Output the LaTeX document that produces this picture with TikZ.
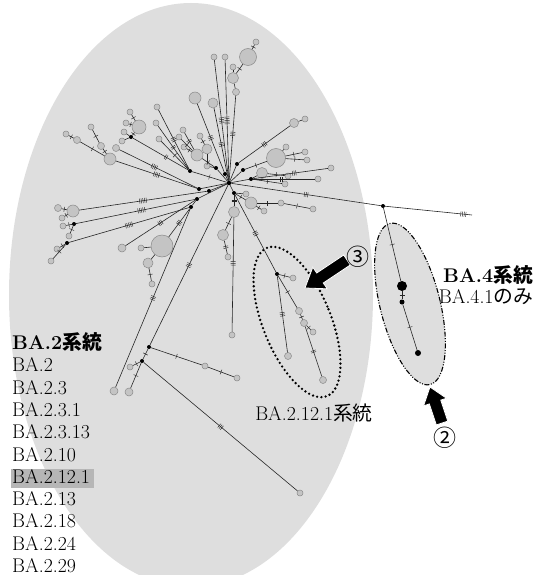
\documentclass[tikz,border=0pt]{standalone}
\usepackage{fontspec}
\newfontfamily\jp{Noto Sans CJK JP}
\usetikzlibrary{decorations.markings}
\definecolor{bgc}{HTML}{DEDEDE}
\definecolor{hfill}{HTML}{C4C4C4}
\definecolor{hdraw}{HTML}{8A8A8A}
\definecolor{hilite}{HTML}{B6B6B6}
\begin{document}
\begin{tikzpicture}[x=1pt,y=-1pt,
  ed/.style={draw=black!85, line width=0.6pt},
  tickline/.style={draw=black!85, line width=0.45pt},
  tk/.style 2 args={postaction={decorate,decoration={markings,
      mark=at position #2 with {\foreach \q in {1,...,#1}{\pgfmathsetmacro\tkx{(\q-0.5-0.5*#1)*1.7}\draw[tickline] (\tkx pt,-2.5pt) -- (\tkx pt,2.5pt);}}}}},
  hp/.style={circle, draw=hdraw, fill=hfill, line width=0.5pt, inner sep=0pt, minimum size=#1pt},
  bd/.style={circle, fill=black, inner sep=0pt, minimum size=#1pt},
  bd/.default=4,
  lbl/.style={font=\fontsize{19.8}{22}\selectfont, inner sep=0pt},
  circnum/.style={font=\jp\fontsize{23}{23}\selectfont, inner sep=0pt},
  blockarrow/.style={fill=black, draw=white, line width=0.8pt, line join=miter}
]
\useasboundingbox (0,0) rectangle (535,575);
% background ellipses
\fill[bgc] (191,295) ellipse [x radius=182, y radius=292];
\filldraw[fill=bgc, draw=black, line width=1.1pt,
  dash pattern=on 5pt off 1.6pt on 1pt off 1.6pt on 1pt off 1.6pt,
  rotate around={14:(410,304)}] (410,304) ellipse [x radius=30, y radius=83];
\draw[black, line width=2.6pt, line cap=round, dash pattern=on 0pt off 4.3pt,
  rotate around={22:(297,322)}] (297,322) ellipse [x radius=34, y radius=80];

% hub and median vectors
\node[bd=4.5] (h) at (229,183) {};
\node[bd] (d1) at (209,191) {};
\node[bd] (d2) at (199,189) {};
\node[bd] (d3) at (216,168) {};
\node[bd] (d4) at (225,174) {};
\node[bd] (d5) at (237,164) {};
\node[bd] (d6) at (243,170) {};
\node[bd] (d7) at (251,179) {};
\node[bd] (d8) at (234,193) {};
\node[bd] (d9) at (190,171) {};
\node[bd] (d10) at (197,199) {};
\node[bd] (d11) at (191,207) {};

% top group
\node[hp=6] (t1) at (214,57) {};
\node[hp=6] (t2) at (225,57) {};
\node[hp=6] (t3) at (233,67) {};
\node[hp=11] (t4) at (233,78) {};
\node[hp=7] (t5) at (236,92) {};
\node[hp=17] (t6) at (248,57) {};
\node[hp=6] (t7) at (256,42) {};
\node[hp=10] (t8) at (213,103) {};
\node[hp=12] (t9) at (195,98) {};

% upper-left group
\node[hp=6] (u1) at (130,112) {};
\node[hp=6] (u2) at (126,123) {};
\node[hp=14] (u3) at (139,127) {};
\node[hp=6] (u4) at (124,132) {};
\node[hp=6] (u5) at (122,141) {};
\node[bd] (u6) at (131,137) {};
\node[hp=6] (u7) at (157,107) {};
\node[hp=6] (u8) at (156,123) {};
\node[hp=6] (u9) at (159,139) {};
\node[hp=6] (u10) at (183,130) {};
\node[hp=6] (u11) at (179,137) {};
\node[hp=6] (u12) at (184,147) {};
\node[hp=12] (u13) at (197,155) {};
\node[hp=6] (u14) at (200,136) {};
\node[hp=10] (u15) at (207,149) {};
\node[hp=6] (u16) at (207,166) {};
\node[hp=6] (u17) at (66,134) {};
\node[hp=7] (u18) at (77,140) {};
\node[hp=6] (u19) at (91,127) {};
\node[hp=7] (u20) at (101,146) {};
\node[hp=12] (u21) at (110,159) {};
\node[hp=7] (u22) at (116,148) {};

% right group
\node[hp=9] (r1) at (294,123) {};
\node[hp=6] (r2) at (305,119) {};
\node[hp=19] (r3) at (276,158) {};
\node[hp=6] (r4) at (286,147) {};
\node[hp=6] (r5) at (305,152) {};
\node[hp=6] (r6) at (307,160) {};
\node[hp=11] (r7) at (262,173) {};
\node[hp=6] (r8) at (288,176) {};
\node[hp=6] (r9) at (331,168) {};
\node[hp=6] (r10) at (318,179) {};
\node[hp=6] (r11) at (285,184) {};
\node[hp=6] (r12) at (246,194) {};
\node[hp=12] (r13) at (251,203) {};
\node[hp=6] (r14) at (264,211) {};
\node[hp=6] (r15) at (281,203) {};
\node[hp=6] (r16) at (313,209) {};

% downward group
\node[hp=11] (l1) at (234,212) {};
\node[hp=11] (l2) at (223,235) {};
\node[hp=6] (l3) at (228,257) {};
\node[hp=6] (l4) at (232,335) {};

% BA.2.12.1 group
\node[bd] (g0) at (277,274) {};
\node[hp=6] (g1) at (293,278) {};
\node[hp=7] (g2) at (288,356) {};
\node[hp=7] (g3) at (299,311) {};
\node[hp=7] (g4) at (304,323) {};
\node[hp=6] (g5) at (313,332) {};
\node[hp=7] (g6) at (323,380) {};

% left group
\node[hp=12] (w1) at (73,211) {};
\node[hp=7] (w2) at (58,208) {};
\node[hp=6] (w3) at (62,218) {};
\node[bd] (w4) at (74,224) {};
\node[hp=6] (w5) at (63,226) {};
\node[hp=6] (w6) at (69,236) {};
\node[bd] (w7) at (67,243) {};
\node[hp=6] (w8) at (57,249) {};
\node[hp=6] (w9) at (51,261) {};
\node[hp=8] (w10) at (122,248) {};
\node[hp=22] (w11) at (162,246) {};
\node[hp=6] (w12) at (141,248) {};
\node[hp=10] (w13) at (148,263) {};
\node[hp=6] (w14) at (152,284) {};

% lower-left group
\node[hp=8] (a1) at (114,391) {};
\node[bd] (b0) at (149,347) {};
\node[bd] (b1) at (142,361) {};
\node[hp=6] (b2) at (130,367) {};
\node[hp=8] (b3) at (129,392) {};
\node[hp=6] (b4) at (205,366) {};
\node[hp=6] (b5) at (237,378) {};
\node[hp=6] (b6) at (300,493) {};

% BA.4 branch
\node[bd] (e1) at (383,206) {};
\coordinate (e2) at (472,215);
\node[bd=10] (k1) at (402,286) {};
\node[bd=5] (k2) at (402,302) {};
\node[bd=6] (k3) at (418,353) {};

% edges: hub
\draw[ed] (h) -- (d1);
\draw[ed] (h) -- (d2);
\draw[ed] (h) -- (d3);
\draw[ed] (h) -- (d4);
\draw[ed] (h) -- (d5);
\draw[ed] (h) -- (d6);
\draw[ed] (h) -- (d7);
\draw[ed] (h) -- (d8);
\draw[ed, tk={1}{0.5}] (h) -- (d9);
\draw[ed] (h) -- (d10);
\draw[ed] (d10) -- (d11);
% top
\draw[ed, tk={4}{0.5}] (t1) -- (h);
\draw[ed, tk={5}{0.5}] (t2) -- (h);
\draw[ed, tk={3}{0.45}] (t5) -- (h);
\draw[ed] (t3) -- (t4);
\draw[ed] (t4) -- (t5);
\draw[ed, tk={1}{0.5}] (t6) -- (t4);
\draw[ed, tk={1}{0.5}] (t6) -- (t7);
\draw[ed, tk={3}{0.5}] (t8) -- (h);
\draw[ed, tk={3}{0.5}] (t9) -- (d4);
% upper-left
\draw[ed, tk={1}{0.5}] (u17) -- (u18);
\draw[ed, tk={1}{0.5}] (u18) -- (u21);
\draw[ed, tk={1}{0.5}] (u19) -- (u20);
\draw[ed, tk={1}{0.5}] (u20) -- (u21);
\draw[ed, tk={4}{0.5}] (u21) -- (d2);
\draw[ed, tk={4}{0.45}] (u22) -- (d2);
\draw[ed, tk={1}{0.5}] (u3) -- (u1);
\draw[ed, tk={1}{0.5}] (u3) -- (u2);
\draw[ed, tk={1}{0.5}] (u3) -- (u6);
\draw[ed] (u6) -- (u4);
\draw[ed] (u6) -- (u5);
\draw[ed, tk={2}{0.6}] (u6) -- (d9);
\draw[ed, tk={3}{0.5}] (u7) -- (d9);
\draw[ed, tk={2}{0.5}] (u8) -- (d9);
\draw[ed, tk={1}{0.5}] (u9) -- (d9);
\draw[ed, tk={2}{0.5}] (u10) -- (u13);
\draw[ed, tk={1}{0.5}] (u11) -- (u13);
\draw[ed, tk={1}{0.5}] (u12) -- (u13);
\draw[ed, tk={1}{0.5}] (u13) -- (d3);
\draw[ed, tk={1}{0.5}] (u14) -- (u15);
\draw[ed] (u15) -- (u16);
\draw[ed] (u16) -- (d3);
% right
\draw[ed, tk={3}{0.5}] (d5) -- (r1);
\draw[ed] (r1) -- (r2);
\draw[ed, tk={1}{0.5}] (d6) -- (r3);
\draw[ed] (r3) -- (r4);
\draw[ed, tk={1}{0.5}] (r3) -- (r5);
\draw[ed, tk={1}{0.5}] (r3) -- (r6);
\draw[ed] (d7) -- (r7);
\draw[ed, tk={1}{0.5}] (r7) -- (r8);
\draw[ed, tk={3}{0.55}] (d7) -- (r9);
\draw[ed, tk={2}{0.45}] (d7) -- (r10);
\draw[ed, tk={1}{0.5}] (d7) -- (r11);
\draw[ed] (d8) -- (r12);
\draw[ed, tk={1}{0.5}] (d8) -- (r13);
\draw[ed, tk={1}{0.5}] (r13) -- (r14);
\draw[ed, tk={1}{0.5}] (r13) -- (r15);
\draw[ed, tk={1}{0.5}] (r15) -- (r16);
% downward
\draw[ed, tk={2}{0.5}] (d8) -- (l1);
\draw[ed, tk={1}{0.5}] (l1) -- (l2);
\draw[ed, tk={2}{0.5}] (l2) -- (l3);
\draw[ed, tk={3}{0.4}] (l1) -- (l4);
% BA.2.12.1
\draw[ed, tk={3}{0.5}] (d8) -- (g0);
\draw[ed, tk={1}{0.5}] (g0) -- (g1);
\draw[ed, tk={3}{0.5}] (g0) -- (g2);
\draw[ed, tk={1}{0.5}] (g0) -- (g3);
\draw[ed, tk={1}{0.5}] (g3) -- (g4);
\draw[ed, tk={1}{0.5}] (g4) -- (g5);
\draw[ed, tk={2}{0.5}] (g4) -- (g6);
% left
\draw[ed, tk={5}{0.5}] (w1) -- (d1);
\draw[ed, tk={1}{0.5}] (w2) -- (w1);
\draw[ed, tk={1}{0.5}] (w3) -- (w1);
\draw[ed, tk={5}{0.55}] (w4) -- (d10);
\draw[ed, tk={1}{0.5}] (w5) -- (w4);
\draw[ed, tk={1}{0.5}] (w6) -- (w4);
\draw[ed, tk={5}{0.5}] (w7) -- (d11);
\draw[ed, tk={1}{0.5}] (w8) -- (w7);
\draw[ed, tk={1}{0.5}] (w9) -- (w7);
\draw[ed, tk={3}{0.5}] (d10) -- (w10);
\draw[ed, tk={3}{0.5}] (d11) -- (w11);
\draw[ed] (w11) -- (w12);
\draw[ed] (w11) -- (w13);
\draw[ed, tk={1}{0.5}] (w13) -- (w14);
% lower-left
\draw[ed, tk={3}{0.5}] (d11) -- (a1);
\draw[ed, tk={3}{0.5}] (h) -- (b0);
\draw[ed, tk={1}{0.5}] (b0) -- (b1);
\draw[ed, tk={1}{0.5}] (b1) -- (b2);
\draw[ed, tk={1}{0.5}] (b1) -- (b3);
\draw[ed, tk={1}{0.5}] (b0) -- (b4);
\draw[ed, tk={1}{0.5}] (b4) -- (b5);
\draw[ed, tk={3}{0.5}] (b1) -- (b6);
% BA.4
\draw[ed, tk={3}{0.5}] (h) -- (e1);
\draw[ed, tk={4}{0.9}] (e1) -- (e2);
\draw[ed, tk={1}{0.5}] (e1) -- (k1);
\draw[ed, tk={1}{0.5}] (k1) -- (k2);
\draw[ed, tk={1}{0.5}] (k2) -- (k3);

% arrows and circled numbers
\filldraw[blockarrow] (343.7,255) -- (316.7,273) -- (312.8,267.2) -- (305,288)
  -- (327.2,288.8) -- (323.3,283) -- (350.3,265) -- cycle;
\node[circnum] (c3) at (358,257) {③};
\filldraw[blockarrow] (436.3,424.9) -- (429.3,403.9) -- (423.6,405.8) -- (430,387)
  -- (446.4,398.2) -- (440.7,400.1) -- (447.7,421.1) -- cycle;
\node[circnum] (c2) at (445,438) {②};

% labels
\node[lbl] (ba4) at (488,275) {\textbf{BA.4}{\jp\bfseries 系統}};
\node[lbl] (ba41) at (486,297) {BA.4.1{\jp のみ}};
\node[lbl] (ba2121) at (314,413) {BA.2.12.1{\jp 系統}};

\fill[hilite] (11,469) rectangle (93.5,487.5);
\node[lbl, anchor=base west] (s0) at (12,349.5) {\textbf{BA.2}{\jp\bfseries 系統}};
\node[lbl, anchor=base west] (s1) at (12,371.8) {BA.2};
\node[lbl, anchor=base west] (s2) at (12,394.1) {BA.2.3};
\node[lbl, anchor=base west] (s3) at (12,416.4) {BA.2.3.1};
\node[lbl, anchor=base west] (s4) at (12,438.7) {BA.2.3.13};
\node[lbl, anchor=base west] (s5) at (12,461.0) {BA.2.10};
\node[lbl, anchor=base west] (s6) at (12,483.3) {BA.2.12.1};
\node[lbl, anchor=base west] (s7) at (12,505.6) {BA.2.13};
\node[lbl, anchor=base west] (s8) at (12,527.9) {BA.2.18};
\node[lbl, anchor=base west] (s9) at (12,550.2) {BA.2.24};
\node[lbl, anchor=base west] (s10) at (12,572.5) {BA.2.29};
\end{tikzpicture}
\end{document}
